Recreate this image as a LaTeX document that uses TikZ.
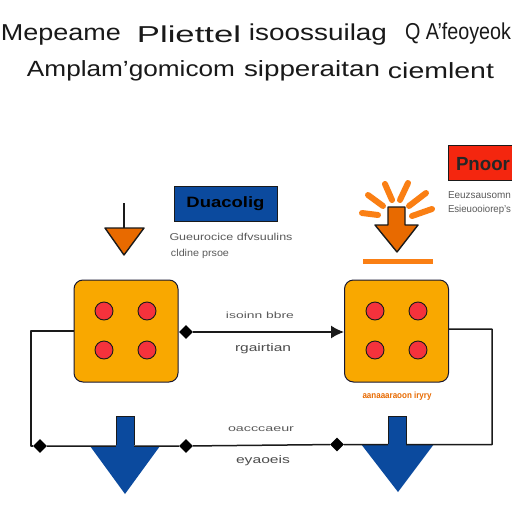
\documentclass[tikz,border=0pt]{standalone}
\usepackage{fontspec}
\usepackage{graphicx}
\setmainfont{Liberation Sans}
\usetikzlibrary{arrows.meta,shapes.geometric}
\definecolor{ambr}{HTML}{F9A800}
\definecolor{dotr}{HTML}{F5323C}
\definecolor{navy}{HTML}{0B4A9E}
\definecolor{ornga}{HTML}{E86A00}
\definecolor{ray}{HTML}{FA7F14}
\definecolor{rbox}{HTML}{F4260F}
\definecolor{edge}{HTML}{1A1A1A}
\definecolor{smalltx}{HTML}{5A5A5A}
% text squeezed to a width, keeping its natural height
\newcommand{\fitw}[3]{\resizebox{#1pt}{\height}{\fontsize{#2}{#2}\selectfont #3}}
\tikzset{
  x=1pt,y=-1pt,
  tx/.style={inner sep=0pt,outer sep=0pt,anchor=center},
  title/.style={tx,text=black!90},
  small/.style={tx,text=smalltx},
  chip/.style={draw=edge!90!blue,line width=1pt,fill=ambr,rounded corners=9pt,minimum width=104pt,minimum height=102pt,inner sep=0pt},
  pip/.style={circle,draw=edge,line width=.9pt,fill=dotr,minimum size=18pt,inner sep=0pt},
  joint/.style={diamond,fill=black,minimum size=14pt,inner sep=0pt},
  wire/.style={draw=edge,line width=1.5pt,line join=round},
  beam/.style={line width=6pt,draw=ray,line cap=round},
  tag/.style={draw=edge,line width=1pt,inner sep=0pt},
}
\begin{document}
\begin{tikzpicture}
\useasboundingbox (0,0) rectangle (512,512);
\fill[white] (0,0) rectangle (512,512);
% title
\node[title] at (61,35) {\fitw{120}{23}{Mepeame}};
\node[title] at (189,34) {\fitw{104}{23}{Pliettel}};
\node[title] at (318,35) {\fitw{138}{23}{isoossuilag}};
\node[title] at (458,34) {\fitw{106}{23}{Q A'feoyeok}};
\node[title] at (131,71) {\fitw{208}{22}{Amplam'gomicom}};
\node[title] at (312,71) {\fitw{136}{22}{sipperaitan}};
\node[title] at (441,71) {\fitw{106}{22}{ciemlent}};
% chips
\node[chip] (L) at (126,331) {};
\node[chip] (R) at (396.5,331) {};
\foreach \n/\x/\y in {a/104/311,b/147/311,c/104/350,d/147/350,e/375/311,f/418/311,g/375/350,h/418/350}
  \node[pip] (\n) at (\x,\y) {};
% blue arrow heads, under the wires
\fill[navy] (160,446) -- (125,494) -- (90,446) -- cycle;
\fill[navy] (434,444) -- (398,492) -- (361,444) -- cycle;
% wiring coordinates and joints
\node[joint] (j1) at (186,332) {};
\node[joint] (j2) at (40,446) {};
\node[joint] (j3) at (186,446) {};
\node[joint] (j4) at (337,444.5) {};
\coordinate (lcorner) at (31,331);
\coordinate (lbot) at (31,446);
\coordinate (rbot) at (492,444.5);
\coordinate (rtop) at (492,329);
\coordinate (Lw) at (L.west |- lcorner);
\coordinate (Re) at (R.east |- rtop);
\coordinate (Rw) at (R.west |- j1);
\draw[wire,-{Latex[length=13pt,width=13pt]}] (j1) -- (Rw);
\draw[wire] (Lw) -- (lcorner) -- (lbot) -- (j2);
\draw[wire] (j2) -- (j3) -- (j4) -- (rbot) -- (rtop) -- (Re);
% blue arrow shafts, over the wires
\fill[navy] (116,416) rectangle (134,449);
\draw[edge,line width=.8pt] (116,445) -- (116,416) -- (134,416) -- (134,445);
\fill[navy] (388,416) rectangle (406,447);
\draw[edge,line width=.8pt] (388,444) -- (388,416) -- (406,416) -- (406,444);
% wire labels
\node[small] at (260,315) {\fitw{68}{9}{isoinn bbre}};
\node[tx,text=black!70] at (263,349) {\fitw{56}{11}{rgairtian}};
\node[small] at (261,429) {\fitw{66}{9}{oacccaeur}};
\node[tx,text=black!70] at (263,461) {\fitw{54}{11}{eyaoeis}};
\node[tx,text=ornga] at (397,396) {\fitw{69}{9}{\bfseries aanaaaraoon iryry}};
% upper-left arrow
\draw[edge,line width=2pt] (124,203) -- (124,230);
\draw[edge,line width=1.4pt,fill=ornga,line join=round] (105,228) -- (144,228) -- (124,255) -- cycle;
\node[tag,fill=navy,minimum width=103pt,minimum height=35pt] (blue) at (225.5,203.5) {\fitw{78}{15}{\bfseries\color{black}Duacolig}};
\node[small] at (231,237) {\fitw{123}{10}{Gueurocice dfvsuulins}};
\node[small] at (200,254) {\fitw{58}{10}{cldine prsoe}};
% upper-right arrow
\foreach \a/\b/\c/\d in {362/213/378/215,368/195/383/206,385/184/392/200,408/183/400/200,426/193/409/206,432/209/412/216}
  \draw[beam] (\a,\b) -- (\c,\d);
\draw[edge,line width=1.4pt,fill=ornga,line join=round] (388,207) -- (405,207) -- (405,225) -- (418,225) -- (397,252) -- (375,225) -- (388,225) -- cycle;
\draw[line width=5pt,draw=ray] (363,261) -- (433,261);
\begin{scope}
\clip (0,0) rectangle (512,512);
\node[tag,fill=rbox,minimum width=80pt,minimum height=35pt] (red) at (488,163) {};
\end{scope}
\node[tx,text=black!85,anchor=west] at (456,164) {\fitw{54}{19}{\bfseries Pnoor}};
\node[small,anchor=west] at (448,195) {\fitw{63}{10}{Eeuzsausomn}};
\node[small,anchor=west] at (448,210) {\fitw{63}{10}{Esieuooiorep's}};
\end{tikzpicture}
\end{document}
